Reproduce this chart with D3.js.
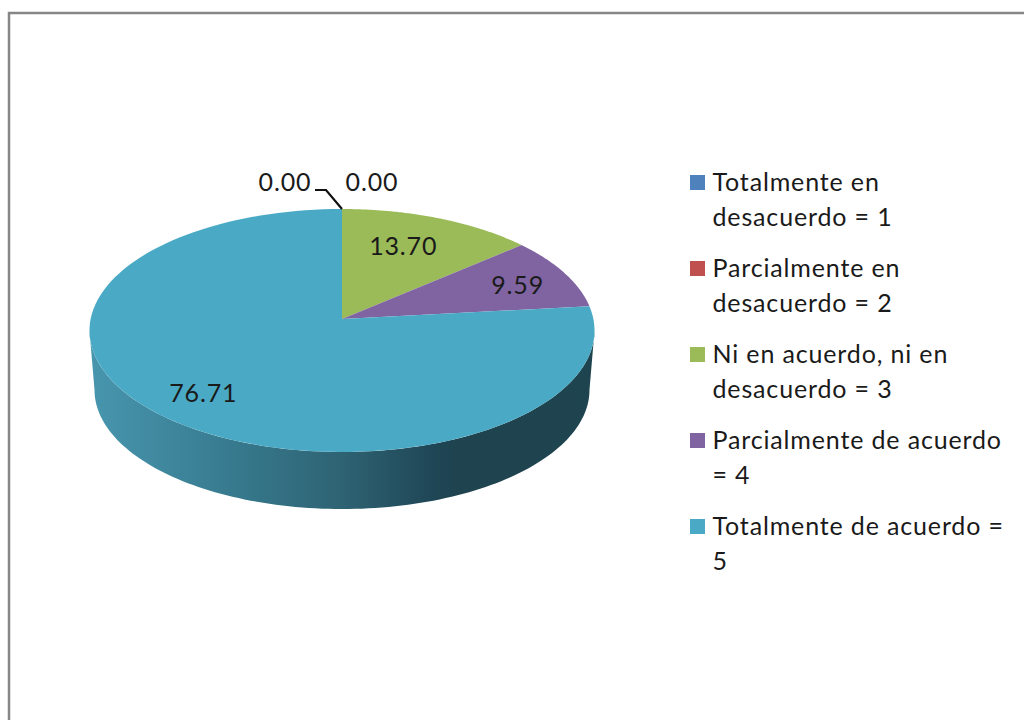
<!DOCTYPE html>
<html>
<head>
<meta charset="utf-8">
<script src="https://d3js.org/d3.v7.min.js"></script>
<style>
  body { margin: 0; background: #fff; }
  svg { display: block; }
  text { font-family: Lato, "Open Sans", sans-serif; fill: #1a1a1a; letter-spacing: 0.85px; }
</style>
</head>
<body>
<script>
// values
const categories = [
  ['Totalmente en', 'desacuerdo = 1'],
  ['Parcialmente en', 'desacuerdo = 2'],
  ['Ni en acuerdo, ni en', 'desacuerdo = 3'],
  ['Parcialmente de acuerdo', '= 4'],
  ['Totalmente de acuerdo =', '5']
];
const values = [0, 0, 13.70, 9.59, 76.71];
const colors = ['#4f81bd', '#c0504d', '#9bbb59', '#8064a2', '#4aaac5'];

const width = 1024, height = 720;

// pie is tilted with a bit of perspective, so the apex is not the ellipse centre
const cx = 342, cy = 319, rx = 251.4, ry = 120.4, persp = 0.0947;
const depth = 59.7, bottomScale = 0.98;

function project(angle, r, level) {
  const s = level ? bottomScale : 1;
  const u = r * Math.sin(angle), v = r * Math.cos(angle);
  const w = 1 + persp * v;
  return [cx + s * rx * u / w, cy + (level ? depth : 0) - s * ry * v / w];
}

const svg = d3.select('body').append('svg')
  .attr('width', width)
  .attr('height', height);

// chart frame, only top and left are inside the crop
svg.append('path')
  .attr('d', `M9,${height}V13H${width}`)
  .attr('fill', 'none')
  .attr('stroke', '#868686')
  .attr('stroke-width', 2.5);

const pie = d3.pie().sort(null).value(d => d);
const arcs = pie(values);
const line = d3.line();
const arcPoints = (a0, a1, r, level) => d3.range(0, 121)
  .map(i => project(a0 + (a1 - a0) * i / 120, r, level));

// side wall, right edge to left edge going round the front
const grad = svg.append('defs').append('linearGradient')
  .attr('id', 'wall')
  .attr('gradientUnits', 'userSpaceOnUse')
  .attr('x1', 90).attr('x2', 595).attr('y1', 0).attr('y2', 0);
[[0, '#4796ae'], [0.1, '#428ca3'], [0.3, '#36788c'], [0.5, '#2e6373'], [0.68, '#1f4656'], [0.72, '#1f4450'], [1, '#1e444f']]
  .forEach(d => grad.append('stop').attr('offset', d[0]).attr('stop-color', d[1]));

const wallStart = Math.PI / 180 * 95.4, wallEnd = Math.PI / 180 * 264.6;
const wall = arcPoints(wallStart, wallEnd, 1, false)
  .concat(arcPoints(wallStart, wallEnd, 1, true).reverse());
svg.append('path')
  .attr('d', line(wall) + 'Z')
  .attr('fill', 'url(#wall)');

// top surface
svg.selectAll('path.slice')
  .data(arcs)
  .enter()
  .append('path')
  .attr('class', 'slice')
  .attr('d', d => line([[cx, cy], ...arcPoints(d.startAngle, d.endAngle, 1, false)]) + 'Z')
  .attr('fill', (d, i) => colors[i]);

// leader line of the first zero label
const tip = project(0, 1, false);
svg.append('path')
  .attr('d', line([[tip[0] - 27, tip[1] - 19], [tip[0] - 16, tip[1] - 19], tip]))
  .attr('fill', 'none')
  .attr('stroke', '#111')
  .attr('stroke-width', 2.2);

// value labels: radius along the slice middle, then a nudge
const labelLayout = [
  {r: 1, dx: -57, dy: -27},
  {r: 1, dx: 30, dy: -27},
  {r: 0.7, dx: -8, dy: -1},
  {r: 0.77, dx: 3, dy: 2},
  {r: 0.7, dx: -15, dy: 8}
];
svg.selectAll('text.value')
  .data(arcs)
  .enter()
  .append('text')
  .attr('class', 'value')
  .attr('text-anchor', 'middle')
  .attr('font-size', 25)
  .attr('dy', '0.35em')
  .attr('x', (d, i) => project((d.startAngle + d.endAngle) / 2, labelLayout[i].r, false)[0] + labelLayout[i].dx)
  .attr('y', (d, i) => project((d.startAngle + d.endAngle) / 2, labelLayout[i].r, false)[1] + labelLayout[i].dy)
  .text(d => d3.format('.2f')(d.value));

// legend
const legend = svg.selectAll('g.legend')
  .data(categories)
  .enter()
  .append('g')
  .attr('class', 'legend')
  .attr('transform', (d, i) => `translate(690, ${175 + i * 86})`);

legend.append('rect')
  .attr('width', 15)
  .attr('height', 15)
  .attr('fill', (d, i) => colors[i]);

legend.selectAll('text')
  .data(d => d)
  .enter()
  .append('text')
  .attr('x', 22.5)
  .attr('y', (d, i) => 16 + i * 35)
  .attr('font-size', 25)
  .text(d => d);
</script>
</body>
</html>
